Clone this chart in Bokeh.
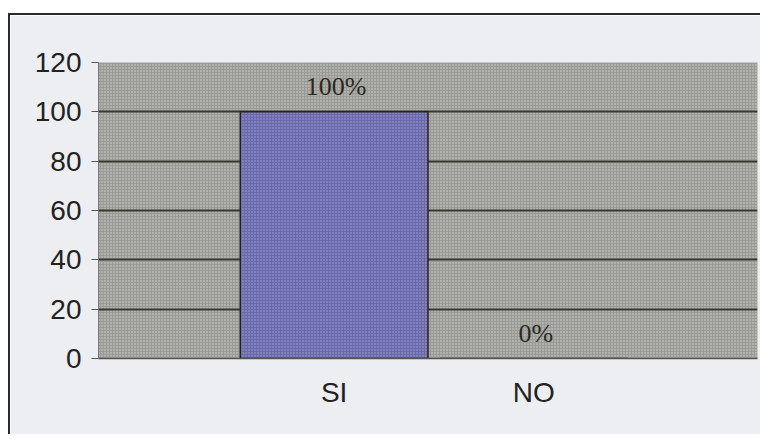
from bokeh.plotting import figure
from bokeh.models import ColumnDataSource, FixedTicker, Range1d, BoxAnnotation
from bokeh.core.properties import value
from bokeh.embed import file_html
from bokeh.resources import INLINE

categories = ["SI", "NO"]
values = [100, 0]
value_labels = ["100%", "0%"]
y_ticks = [0, 20, 40, 60, 80, 100, 120]

xpos = [i + 1 for i in range(len(categories))]
src = ColumnDataSource(dict(x=xpos, top=values, lab=value_labels))

p = figure(width=752, height=421, output_backend="svg", toolbar_location=None,
           x_range=Range1d(-0.18, 3.12), y_range=Range1d(0, 120),
           min_border_left=88, min_border_right=5, min_border_top=47, min_border_bottom=78)
p.margin = (13, 0, 0, 8)
p.styles = {"border-left": "2px solid #2a2a2a", "border-top": "2px solid #2a2a2a",
            "border-right": "none", "border-bottom": "none"}

p.border_fill_color = "#eceef1"
p.background_fill_color = "#9a9a96"
p.outline_line_color = None

bg = BoxAnnotation(fill_alpha=0, line_color=None, level="image",
                   hatch_pattern="dot", hatch_color="#d2d2ce", hatch_scale=3, hatch_weight=2)
p.add_layout(bg)

p.vbar(x="x", top="top", width=0.94, bottom=0, source=src,
       fill_color="#6a6aac", line_color="#222222", line_width=1.5,
       hatch_pattern="dot", hatch_color="#a0a0d4", hatch_scale=3, hatch_weight=2)

p.text(x="x", y="top", text="lab", source=src, text_align="center", text_baseline="alphabetic",
       x_offset=2, y_offset=-25, text_font=value("Liberation Serif"), text_font_size="26px",
       text_color="#2a2a1a")

p.xgrid.grid_line_color = None
p.ygrid.ticker = FixedTicker(ticks=y_ticks[1:-1])
p.ygrid.grid_line_color = "#38382e"
p.ygrid.grid_line_width = 2

p.yaxis.ticker = FixedTicker(ticks=y_ticks)
p.yaxis.major_tick_out = 7
p.yaxis.major_tick_in = 0
p.yaxis.minor_tick_line_color = None
p.yaxis.axis_line_color = "#777777"
p.yaxis.major_tick_line_color = "#555555"
p.yaxis.major_label_standoff = 10
p.yaxis.major_label_text_font = "Liberation Sans"
p.yaxis.major_label_text_font_size = "28px"
p.yaxis.major_label_text_color = "#222222"

p.xaxis.ticker = FixedTicker(ticks=xpos)
p.xaxis.major_label_overrides = {x: c for x, c in zip(xpos, categories)}
p.xaxis.major_tick_line_color = None
p.xaxis.minor_tick_line_color = None
p.xaxis.axis_line_color = "#555555"
p.xaxis.axis_line_width = 1.5
p.xaxis.major_label_standoff = 12
p.xaxis.major_label_text_font = "Liberation Sans"
p.xaxis.major_label_text_font_size = "28px"
p.xaxis.major_label_text_color = "#222222"

open("out.html", "w").write(file_html(p, INLINE))
